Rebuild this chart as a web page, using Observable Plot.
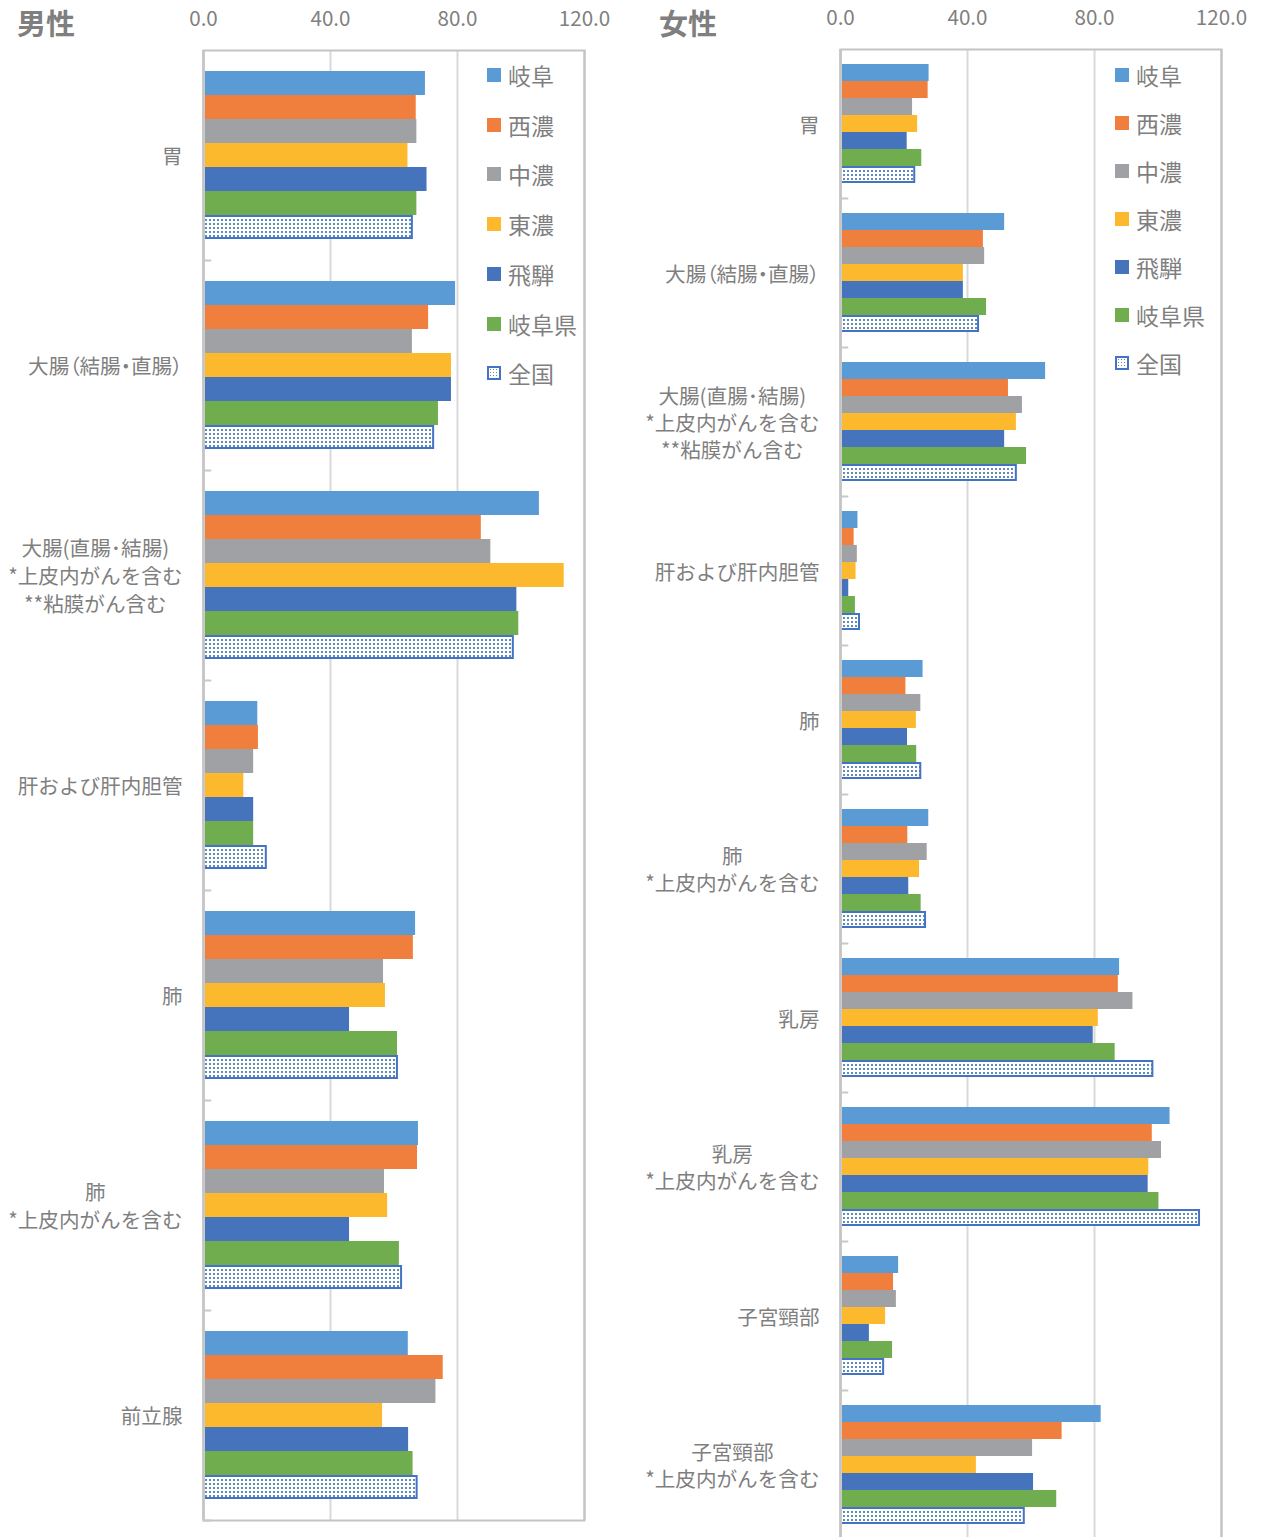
<!DOCTYPE html>
<html><head><meta charset="utf-8">
<script src="https://cdn.jsdelivr.net/npm/d3@7"></script>
<script src="https://cdn.jsdelivr.net/npm/@observablehq/plot@0.6"></script>
<style>
body{margin:0;background:#fff;font-family:"Noto Sans CJK JP",sans-serif;}
#wrap{position:relative;width:1261px;height:1537px;overflow:hidden;background:#fff;}
.panel{position:absolute;top:0;}
.title{position:absolute;top:2px;font-size:29px;font-weight:bold;color:#7f7f7f;line-height:40px;}
.legend{position:absolute;font-size:23px;color:#7f7f7f;}
.legend .item{position:absolute;left:0;white-space:nowrap;display:flex;align-items:center;height:30px;line-height:30px;}
.sw{display:inline-block;width:14px;height:14px;margin-right:7px;box-sizing:border-box;}
</style>
</head><body>
<div id="wrap">
  <div class="panel" id="male" style="left:0"></div>
  <div class="panel" id="female" style="left:630px"></div>
  <div class="title" style="left:17px">男性</div>
  <div class="title" style="left:659px">女性</div>
  <div class="legend" id="legM" style="left:487px;top:0"></div>
  <div class="legend" id="legF" style="left:1115px;top:0"></div>
</div>
<script>
const series = ["岐阜","西濃","中濃","東濃","飛騨","岐阜県","全国"];
const colors = ["#5B9BD5","#F07E3D","#A0A1A4","#FDB92E","#4674BC","#70AD4F"];
const xTicks = [0, 40, 80, 120];

const maleCategories = ["胃","大腸（結腸・直腸）","大腸(直腸･結腸)\n*上皮内がんを含む\n**粘膜がん含む","肝および肝内胆管","肺","肺\n*上皮内がんを含む","前立腺"];
const maleGifu   = [69.9, 79.4, 105.8, 17.1, 66.8, 67.7, 64.5];
const maleSeino  = [67.0, 70.9,  87.5, 17.3, 66.1, 67.4, 75.5];
const maleChuno  = [67.2, 65.8,  90.5, 15.8, 56.7, 57.0, 73.2];
const maleTono   = [64.4, 78.1, 113.6, 12.7, 57.3, 58.0, 56.4];
const maleHida   = [70.4, 78.1,  98.7, 15.8, 46.0, 46.0, 64.6];
const malePref   = [67.2, 74.0,  99.3, 15.8, 61.1, 61.7, 66.0];
const maleNation = [66.1, 72.8,  97.9, 20.1, 61.4, 62.7, 67.6];

const femaleCategories = ["胃","大腸（結腸・直腸）","大腸(直腸･結腸)\n*上皮内がんを含む\n**粘膜がん含む","肝および肝内胆管","肺","肺\n*上皮内がんを含む","乳房","乳房\n*上皮内がんを含む","子宮頸部","子宮頸部\n*上皮内がんを含む"];
const femaleGifu   = [27.9, 51.7, 64.6, 5.5, 26.0, 27.8, 87.9, 103.8, 18.3, 82.1];
const femaleSeino  = [27.6, 45.0, 52.9, 4.3, 20.6, 21.2, 87.5,  98.2, 16.7, 69.8];
const femaleChuno  = [22.7, 45.4, 57.3, 5.3, 25.3, 27.3, 92.1, 101.1, 17.6, 60.5];
const femaleTono   = [24.3, 38.7, 55.4, 4.9, 23.9, 24.9, 81.2,  97.1, 14.2, 42.8];
const femaleHida   = [21.0, 38.7, 51.7, 2.6, 21.1, 21.5, 79.6,  96.9,  9.1, 60.8];
const femalePref   = [25.6, 46.0, 58.6, 4.7, 24.0, 25.4, 86.5, 100.3, 16.4, 68.1];
const femaleNation = [23.7, 43.8, 55.7, 6.3, 25.6, 27.1, 98.7, 113.4, 13.9, 58.2];

function toRows(cats, arrays) {
  const rows = [];
  cats.forEach((c, i) => series.forEach((s, j) => rows.push({category: c, series: s, value: arrays[j][i]})));
  return rows;
}

const tickShape = {draw(context, l) { context.moveTo(0, 0); context.lineTo(0, -l); }};

function makeChart({cats, rows, width, height, marginLeft, marginRight, marginBottom, patternId, lineHeight}) {
  const regional = rows.filter(d => d.series !== "全国");
  const nation = rows.filter(d => d.series === "全国");
  const chart = Plot.plot({
    width, height, marginTop: 48, marginLeft, marginRight, marginBottom,
    style: {fontFamily: '"Noto Sans CJK JP", sans-serif', fontSize: "20.6px", color: "#7f7f7f", background: "white", overflow: "visible"},
    x: {domain: [0, 120]},
    y: {domain: series, paddingInner: 0, paddingOuter: 0.875, axis: null},
    fy: {domain: cats, padding: 0, axis: null},
    color: {domain: series.slice(0, 6), range: colors},
    marks: [
      Plot.ruleX([40, 80], {stroke: "#d9d9d9", strokeWidth: 2}),
      Plot.barX(regional, {x: "value", y: "series", fy: "category", fill: "series"}),
      Plot.barX(nation, {x: "value", y: "series", fy: "category", fill: `url(#${patternId})`, stroke: "#4472C4", strokeWidth: 2, insetTop: 1, insetBottom: 1, insetRight: 1}),
      Plot.ruleX([0], {stroke: "#d0d0d0", strokeWidth: 3}),
      Plot.ruleX([120], {stroke: "#c0c0c0", strokeWidth: 2}),
      Plot.frame({facet: "super", stroke: "#c4c4c4", strokeWidth: 2}),
      Plot.vector(cats, {fy: d => d, frameAnchor: "bottom-left", rotate: 90, length: 7, anchor: "start", stroke: "#c8c8c8", strokeWidth: 2, shape: tickShape}),
      Plot.axisX(xTicks, {anchor: "top", tickSize: 0, tickPadding: 25, tickFormat: d => d.toFixed(1), label: null, fontSize: 20.6}),
      Plot.axisFy({anchor: "left", tickSize: 0, tickPadding: 21, label: null, lineHeight, fontSize: 20.6})
    ]
  });
  const svg = d3.select(chart);
  const defs = svg.insert("defs", ":first-child");
  const p = defs.append("pattern").attr("id", patternId).attr("width", 4).attr("height", 4).attr("patternUnits", "userSpaceOnUse");
  p.append("rect").attr("width", 4).attr("height", 4).attr("fill", "white");
  p.append("rect").attr("x", 1).attr("y", 1).attr("width", 2).attr("height", 2).attr("fill", "#5E8CB8");
  return chart;
}

function adjustLabels(chart) {
  d3.select(chart).selectAll('g[aria-label="fy-axis tick label"] text').each(function() {
    if (this.textContent.includes("（")) this.style.fontFeatureSettings = '"palt"';
    const tspans = Array.from(this.querySelectorAll("tspan"));
    if (tspans.length < 2) return;
    const W = d3.max(tspans, t => t.getComputedTextLength());
    this.style.textAnchor = "middle";
    tspans.forEach(t => {
      const cur = parseFloat(t.getAttribute("x") || "0");
      t.setAttribute("x", cur - W / 2);
    });
  });
}

const male = makeChart({
  cats: maleCategories,
  rows: toRows(maleCategories, [maleGifu, maleSeino, maleChuno, maleTono, maleHida, malePref, maleNation]),
  width: 630, height: 1537, marginLeft: 203, marginRight: 46, marginBottom: 15, patternId: "dotsM", lineHeight: 1.36
});
const female = makeChart({
  cats: femaleCategories,
  rows: toRows(femaleCategories, [femaleGifu, femaleSeino, femaleChuno, femaleTono, femaleHida, femalePref, femaleNation]),
  width: 631, height: 1540, marginLeft: 210, marginRight: 40, marginBottom: 0, patternId: "dotsF", lineHeight: 1.31
});
document.getElementById("male").appendChild(male);
document.getElementById("female").appendChild(female);
adjustLabels(male);
adjustLabels(female);

function legend(el, start, step) {
  series.forEach((s, i) => {
    const item = document.createElement("div");
    item.className = "item";
    item.style.top = (start + i * step - 17) + "px";
    const sw = document.createElement("span");
    sw.className = "sw";
    if (i < 6) sw.style.background = colors[i];
    else {
      sw.style.border = "2px solid #4472C4";
      sw.style.backgroundColor = "#fff";
      sw.style.backgroundImage = "radial-gradient(#5E8CB8 0.9px, transparent 1px)";
      sw.style.backgroundSize = "3px 3px";
    }
    item.appendChild(sw);
    item.appendChild(document.createTextNode(s));
    el.appendChild(item);
  });
}
legend(document.getElementById("legM"), 77, 49.7);
legend(document.getElementById("legF"), 77, 48);
</script>
</body></html>
